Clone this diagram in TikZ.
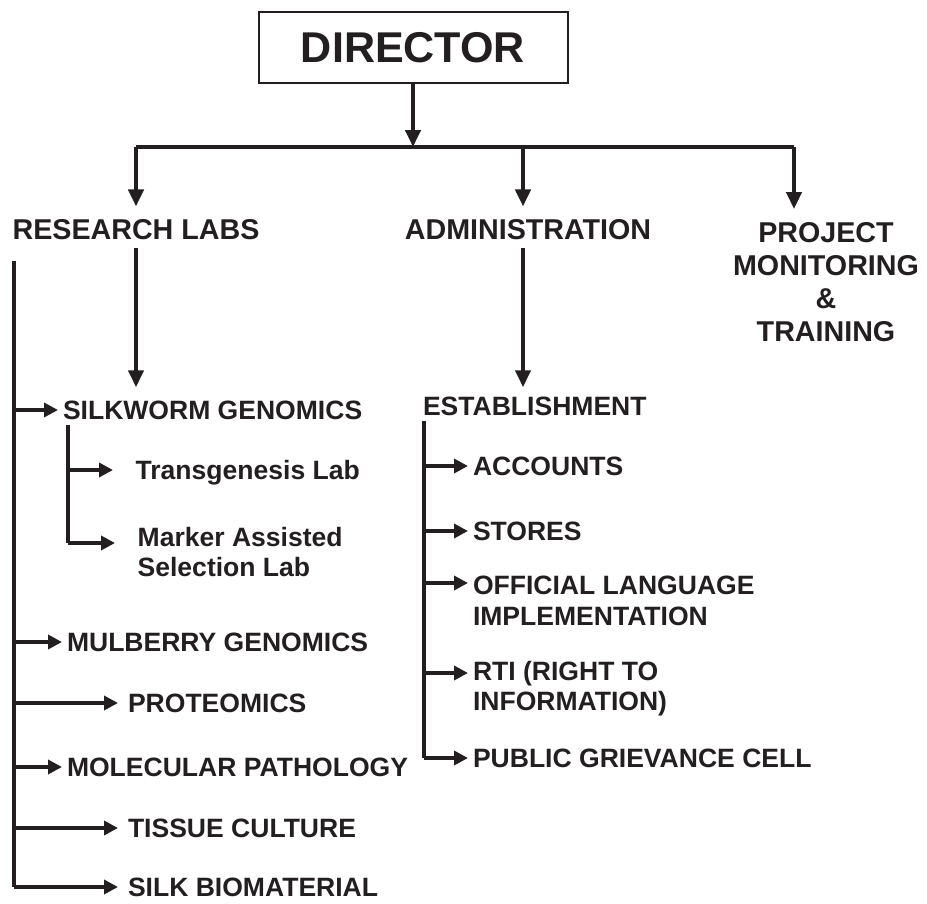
\documentclass[tikz,border=0pt]{standalone}
\usepackage{fontspec}
\setmainfont{Liberation Sans}
\usepackage{xcolor}
\usepackage{tikz}
\usetikzlibrary{arrows.meta}

\definecolor{ink}{HTML}{231F20}

\tikzset{
	boss/.style={draw=ink, line width=1.5pt, inner sep=0pt, minimum width=231.75pt, minimum height=53.25pt, font=\bfseries\fontsize{32.3}{36}\selectfont},
	headtext/.style={inner sep=0pt, text height=15.4pt, text depth=0pt, font=\bfseries\fontsize{21.5}{25}\selectfont},
	headlines/.style={inner sep=0pt, align=center, font=\bfseries\fontsize{21.5}{24.75}\selectfont},
	subtext/.style={inner sep=0pt, outer xsep=3.75pt, anchor=west, text height=14.2pt, text depth=0pt, font=\bfseries\fontsize{19.9}{23.5}\selectfont},
	sublines/.style={inner sep=0pt, outer xsep=3.75pt, anchor=west, align=left, font=\bfseries\fontsize{19.9}{23.5}\selectfont},
	farther/.style={outer xsep=7.5pt},
	farthest/.style={outer xsep=17pt},
	bigarrow/.style={line width=3pt, -{Triangle[length=12.75pt,width=11.25pt]}},
	smallarrow/.style={line width=3pt, -{Triangle[length=10.5pt,width=10.5pt]}},
	trunk/.style={line width=2.3pt},
}

\begin{document}
\begin{tikzpicture}[x=0.75pt, y=-0.75pt, color=ink, text=ink]
	\useasboundingbox (0,0) rectangle (927,903);
	%
	\node[boss] (D) at (413,47.5) {DIRECTOR};
	\node[headtext] (R) at (136,229) {RESEARCH LABS};
	\node[headtext] (Ad) at (528,229) {ADMINISTRATION};
	\node[headlines] (P) at (826,282) {PROJECT\\MONITORING\\\&\\TRAINING};
	%
	\coordinate (bL) at (136,147);
	\coordinate (bM) at (413,147);
	\coordinate (bA) at (523,147);
	\coordinate (bR) at (794,147);
	%
	% research labs
	\node[subtext] (SG) at (58,410) {SILKWORM GENOMICS};
	\node[subtext, farthest] (TL) at (113,470) {Transgenesis Lab};
	\node[sublines, farthest, font=\bfseries\fontsize{19.9}{22.5}\selectfont] (MA) at (115,552) {Marker Assisted\\Selection Lab};
	\node[subtext] (MG) at (62,642) {MULBERRY GENOMICS};
	\node[subtext, farther] (PR) at (118,703) {PROTEOMICS};
	\node[subtext] (MP) at (62,767) {MOLECULAR PATHOLOGY};
	\node[subtext, farther] (TC) at (118,828) {TISSUE CULTURE};
	\node[subtext, farther] (SB) at (118,887) {SILK BIOMATERIAL};
	\coordinate (rl) at (14,261);
	\coordinate (sl) at (68,425);
	\coordinate (ma) at (68,543);
	%
	% administration
	\node[subtext] (E) at (418,406) {ESTABLISHMENT};
	\node[subtext] (AC) at (468,466) {ACCOUNTS};
	\node[subtext] (ST) at (468,531) {STORES};
	\node[sublines] (OL) at (468,601) {OFFICIAL LANGUAGE\\IMPLEMENTATION};
	\node[sublines, font=\bfseries\fontsize{19.9}{22.5}\selectfont] (RT) at (468,689) {RTI (RIGHT TO\\INFORMATION)};
	\node[subtext] (PG) at (468,758) {PUBLIC GRIEVANCE CELL};
	\coordinate (el) at (424,421);
	\coordinate (ol) at (424,583);
	\coordinate (rt) at (424,673);
	%
	% lines
	\draw[trunk] (bL) -- (bR);
	\draw[trunk] (rl) -- (rl |- SB);
	\draw[trunk] (sl) -- (ma);
	\draw[trunk] (el) -- (el |- PG);
	%
	\path[bigarrow]
	% down from the director
	(D) edge (bM)
	(bL) edge[shorten >=9pt] (R)
	(bA) edge[shorten >=9pt] (bA |- Ad.north)
	(bR) edge[shorten >=9.75pt] (bR |- P.north)
	% down to the first units
	(R.south) edge[shorten <=6pt, shorten >=9.75pt] (bL |- SG.north)
	(bA |- Ad.south) edge[shorten <=6pt, shorten >=6.75pt] (bA |- E.north);
	%
	\path[smallarrow]
	% research branches
	(rl |- SG) edge (SG)
	(sl |- TL) edge (TL)
	(ma) edge (ma -| MA.west)
	(rl |- MG) edge (MG)
	(rl |- PR) edge (PR)
	(rl |- MP) edge (MP)
	(rl |- TC) edge (TC)
	(rl |- SB) edge (SB)
	% administration branches
	(el |- AC) edge (AC)
	(el |- ST) edge (ST)
	(ol) edge (ol -| OL.west)
	(rt) edge (rt -| RT.west)
	(el |- PG) edge (PG);
\end{tikzpicture}
\end{document}
